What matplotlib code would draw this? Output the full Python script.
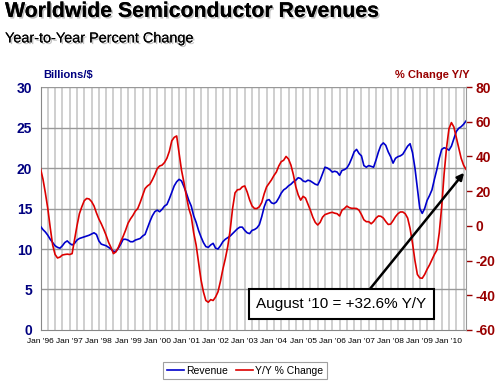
import matplotlib
matplotlib.use("Agg")
import matplotlib.pyplot as plt
import matplotlib.patheffects as pe
import numpy as np

# Monthly data, Jan 1996 .. Aug 2010
revenue = [12.8, 12.4, 12.1, 11.7, 11.2, 10.8, 10.4, 10.2, 10.1, 10.4, 10.8, 11.0,
           10.7, 10.5, 10.7, 11.1, 11.3, 11.4, 11.5, 11.6, 11.7, 11.85, 12.0, 11.8,
           11.0, 10.6, 10.5, 10.4, 10.2, 10.0, 9.7, 9.7, 10.1, 10.6, 11.2, 11.2,
           11.1, 10.9, 10.9, 11.1, 11.2, 11.3, 11.6, 11.8, 12.6, 13.4, 14.1, 14.6,
           14.8, 14.6, 14.9, 15.3, 15.5, 16.2, 17.0, 17.8, 18.3, 18.6, 18.4, 17.7,
           16.9, 16.0, 15.3, 14.1, 13.3, 12.3, 11.5, 10.8, 10.3, 10.2, 10.5, 10.7,
           10.1, 10.0, 10.4, 10.9, 11.2, 11.4, 11.6, 11.9, 12.2, 12.5, 12.7, 12.7,
           12.3, 12.0, 11.9, 12.3, 12.4, 12.6, 13.0, 14.0, 15.2, 16.0, 16.1, 15.7,
           15.6, 15.8, 16.3, 16.9, 17.3, 17.5, 17.8, 18.0, 18.3, 18.5, 18.8, 18.7,
           18.4, 18.3, 18.5, 18.4, 18.2, 18.0, 17.9, 18.5, 19.3, 20.1, 20.0, 19.8,
           19.5, 19.6, 19.5, 19.1, 19.7, 19.8, 20.0, 20.5, 21.2, 22.0, 22.3, 21.8,
           21.5, 20.3, 20.1, 20.3, 20.2, 20.1, 21.0, 22.0, 22.8, 23.1, 22.8, 22.0,
           21.4, 20.6, 21.2, 21.4, 21.5, 21.7, 22.2, 22.7, 23.0, 21.9, 20.0, 17.5,
           15.0, 14.4, 15.0, 16.0, 16.6, 17.3, 18.6, 19.8, 21.2, 22.3, 22.5, 22.4,
           22.2, 22.7, 23.6, 24.5, 24.9, 25.1, 25.4, 25.8]

yoy = [33.0, 27.0, 19.0, 10.0, -1.0, -11.0, -16.5, -18.5, -18.0, -16.8, -16.5, -16.3,
       -16.5, -16.0, -8.0, 0.0, 7.0, 11.0, 14.5, 15.8, 15.5, 14.0, 11.5, 7.5,
       4.0, 1.2, -2.0, -5.5, -9.5, -12.5, -16.0, -15.0, -12.5, -9.0, -6.0, -2.5,
       1.5, 4.0, 6.0, 8.5, 10.0, 13.5, 17.5, 21.5, 23.0, 24.0, 26.5, 29.5,
       33.0, 34.5, 35.0, 36.5, 39.0, 43.0, 49.0, 51.0, 51.8, 42.0, 32.0, 25.0,
       17.0, 10.0, 5.5, -4.0, -11.0, -21.0, -31.0, -38.0, -43.0, -44.0, -42.5, -43.0,
       -41.0, -38.0, -32.0, -25.0, -19.0, -12.0, -2.5, 10.0, 19.0, 20.8, 21.0, 22.5,
       23.0, 19.5, 15.0, 11.5, 10.0, 10.0, 11.0, 13.5, 18.5, 22.5, 24.5, 26.5,
       29.0, 31.0, 34.5, 37.0, 37.8, 40.0, 38.5, 35.0, 29.5, 22.5, 17.8, 14.8,
       17.0, 16.0, 12.5, 9.0, 5.0, 2.0, 0.5, 2.0, 5.0, 6.5, 7.0, 7.5,
       7.8, 7.3, 7.0, 5.7, 9.0, 10.0, 11.4, 10.5, 10.1, 10.1, 10.0, 9.0,
       6.5, 3.5, 2.4, 2.4, 1.2, 2.5, 4.5, 5.7, 5.5, 4.5, 2.5, 0.8,
       1.0, 3.0, 5.3, 7.0, 8.0, 8.0, 7.0, 4.5, -1.5, -10.0, -20.0, -28.0,
       -30.0, -30.2, -28.0, -25.0, -22.5, -19.5, -16.5, -14.0, -4.0, 11.0, 30.0, 45.0,
       56.0, 59.5, 57.0, 51.0, 45.0, 39.0, 35.0, 32.6]

year_labels = ["Jan '96", "Jan '97", "Jan '98", "Jan '99", "Jan '00", "Jan '01", "Jan '02",
               "Jan '03", "Jan '04", "Jan '05", "Jan '06", "Jan '07", "Jan '08", "Jan '09",
               "Jan '10"]
left_ticks = [0, 5, 10, 15, 20, 25, 30]
right_ticks = [-60, -40, -20, 0, 20, 40, 60, 80]
note_text = "August \u201810 = +32.6% Y/Y"

plt.rcParams['font.family'] = ['Liberation Sans', 'DejaVu Sans']

months = np.arange(len(revenue))
n = len(revenue)

fig = plt.figure(figsize=(5.0, 3.83), dpi=100)
ax = fig.add_axes([0.081, 0.1384, 0.851, 0.6344])
ax2 = ax.twinx()

BLUE = '#0000cc'
RED = '#dd0000'
NAVY = '#000080'
DRED = '#990000'

# grid
ax.set_xlim(0, n - 1)
ax.set_ylim(0, 30)
ax2.set_ylim(-60, 80)
for q in range(0, n, 3):
    ax.axvline(q, color='#cccccc', lw=1.3, zorder=0)
for v in left_ticks[1:]:
    ax.axhline(v, color='#999999', lw=1.0, zorder=0.5)

ax.plot(months, revenue, color=BLUE, lw=1.2, zorder=3, label='Revenue')
ax2.plot(months, yoy, color=RED, lw=1.2, zorder=3, label='Y/Y % Change')

ax.set_yticks(left_ticks)
ax.set_yticklabels([str(v) for v in left_ticks], color=NAVY, fontweight='bold', fontsize=10)
ax2.set_yticks(right_ticks)
ax2.set_yticklabels([str(v) for v in right_ticks], color=DRED, fontweight='bold', fontsize=10)
ax.tick_params(axis='y', length=0, pad=6)
ax2.tick_params(axis='y', length=4, color=DRED, width=1, pad=3)

ax.set_xticks(np.arange(0, n, 12))
ax.set_xticklabels(year_labels, fontsize=6, family=['Liberation Sans Narrow', 'Liberation Sans'])
ax.tick_params(axis='x', length=0, pad=6)

for a in (ax, ax2):
    for s in a.spines.values():
        s.set_visible(False)
ax.spines['left'].set_visible(True)
ax.spines['left'].set_color('#888888')
ax.spines['bottom'].set_visible(True)
ax.spines['bottom'].set_color('#888888')
ax2.spines['right'].set_visible(True)
ax2.spines['right'].set_color('#999999')

# titles
shadow = [pe.withSimplePatchShadow(offset=(1.2, -1.2), shadow_rgbFace='#999999', alpha=0.6), pe.Normal()]
fig.text(0.01, 0.995, "Worldwide Semiconductor Revenues", fontsize=15.3, fontweight='bold',
         ha='left', va='top', path_effects=shadow)
fig.text(0.01, 0.918, "Year-to-Year Percent Change", fontsize=10.4,
         ha='left', va='top', path_effects=shadow)
fig.text(0.086, 0.79, "Billions/$", fontsize=8, fontweight='bold', color=NAVY, ha='left', va='bottom')
fig.text(0.94, 0.79, "% Change Y/Y", fontsize=8, fontweight='bold', color=DRED, ha='right', va='bottom')

# annotation
ax2.annotate(note_text, xy=(months[-1] - 0.8, yoy[-1] - 2.0), xycoords='data',
             xytext=(0.707, 0.107), textcoords='axes fraction',
             ha='center', va='center', fontsize=11,
             bbox=dict(boxstyle='square,pad=0.5', fc='white', ec='black', lw=1.5),
             arrowprops=dict(arrowstyle='-|>', color='black', lw=1.8, mutation_scale=10,
                             shrinkA=0, shrinkB=0, relpos=(0.63, 1.0)),
             zorder=5)

# legend
h1, l1 = ax.get_legend_handles_labels()
h2, l2 = ax2.get_legend_handles_labels()
leg = fig.legend(h1 + h2, l1 + l2, loc='center', bbox_to_anchor=(0.49, 0.032), ncol=2,
                 fontsize=7.5, frameon=True, fancybox=False, edgecolor='#888888',
                 handlelength=1.6, handletextpad=0.2, columnspacing=0.8, borderpad=0.35)
leg.get_frame().set_linewidth(0.8)

fig.savefig('out.png', dpi=100)
